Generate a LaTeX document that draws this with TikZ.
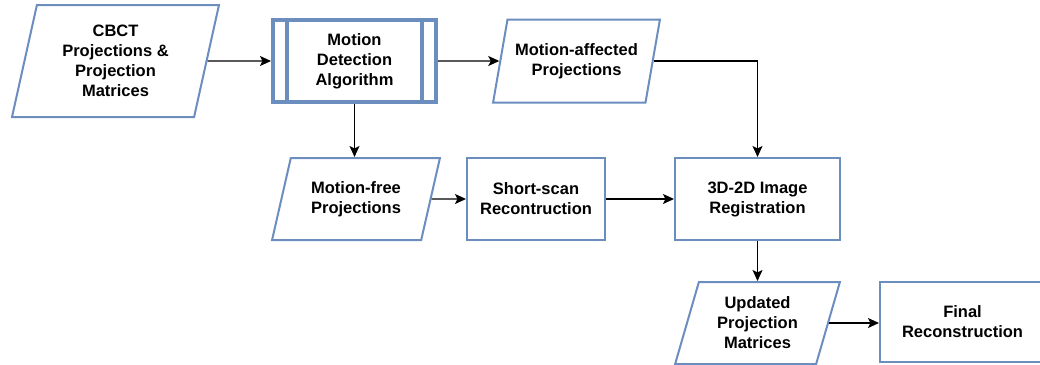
\documentclass[tikz,border=0pt]{standalone}
\usepackage{fontspec}
\setmainfont{Liberation Sans}
\usetikzlibrary{shapes.geometric,arrows.meta}
\definecolor{boxblue}{HTML}{6C8EBF}
\begin{document}
\begin{tikzpicture}[x=1pt,y=-1pt,
  every node/.style={font=\fontsize{16.5}{20}\selectfont\bfseries, align=center, inner sep=2pt},
  procbox/.style={draw=boxblue, line width=2pt, rectangle, minimum width=#1, minimum height=82pt},
  databox/.style={draw=boxblue, line width=2pt, trapezium, trapezium stretches=true, minimum height=82pt},
  flow/.style={draw=black, line width=1.3pt, -{Stealth[length=11pt,width=10pt,inset=2.5pt]}}
]
\clip (0,0) rectangle (1040,364);

% data (parallelogram) nodes
\node[databox, trapezium left angle=77, trapezium right angle=103,
      minimum width=207pt, minimum height=112pt] (cbct) at (115.5,61)
      {CBCT\\Projections \&\\Projection\\Matrices};
\node[databox, trapezium left angle=71.4, trapezium right angle=108.6,
      minimum width=167pt, minimum height=83pt] (ma) at (576.5,61)
      {Motion-affected\\Projections};
\node[databox, trapezium left angle=71.1, trapezium right angle=108.9,
      minimum width=168pt] (mf) at (356,199)
      {Motion-free\\Projections};
\node[databox, trapezium left angle=73, trapezium right angle=107,
      minimum width=165pt] (up) at (757.5,323)
      {Updated\\Projection\\Matrices};

% process nodes
\node[procbox=163pt, line width=4pt] (md) at (354.5,61) {Motion\\Detection\\Algorithm};
\draw[boxblue, line width=4pt] ([xshift=16pt]md.north west) -- ([xshift=16pt]md.south west);
\draw[boxblue, line width=4pt] ([xshift=-16pt]md.north east) -- ([xshift=-16pt]md.south east);
\node[procbox=138pt] (ss) at (536,199) {Short-scan\\Recontruction};
\node[procbox=165pt] (reg) at (757.5,199) {3D-2D Image\\Registration};
\node[procbox=165pt, minimum height=80pt] (fin) at (962.5,322) {Final\\Reconstruction};

% connectors
\draw[flow] (cbct.east) -- (md.west);
\draw[flow] (md.east) -- (ma.west);
\draw[flow] (ma.east) -| (reg.north);
\draw[flow] (md.south) -- (md.south |- mf.north);
\draw[flow] (mf.east) -- (ss.west);
\draw[flow] (ss.east) -- (reg.west);
\draw[flow] (reg.south) -- (reg.south |- up.north);
\draw[flow] (up.east) -- (up.east -| fin.west);
\end{tikzpicture}
\end{document}
